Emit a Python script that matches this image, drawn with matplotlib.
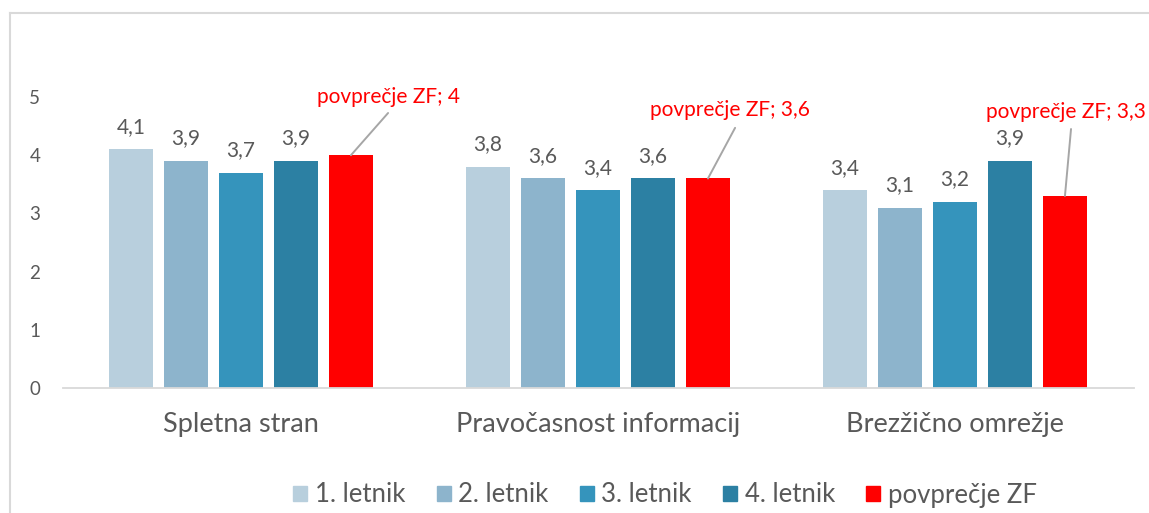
import matplotlib
matplotlib.use("Agg")
import matplotlib.pyplot as plt
from matplotlib.lines import Line2D
import numpy as np

categories = ["Spletna stran", "Pravočasnost informacij", "Brezžično omrežje"]
series_names = ["1. letnik", "2. letnik", "3. letnik", "4. letnik", "povprečje ZF"]
values = {
    "1. letnik": [4.1, 3.8, 3.4],
    "2. letnik": [3.9, 3.6, 3.1],
    "3. letnik": [3.7, 3.4, 3.2],
    "4. letnik": [3.9, 3.6, 3.9],
    "povprečje ZF": [4.0, 3.6, 3.3],
}
yticks = [0, 1, 2, 3, 4, 5]

colors = ["#B8CFDD", "#8DB4CC", "#3594BC", "#2C80A3", "#FF0000"]
label_color = "#595959"

plt.rcParams["font.family"] = ["Lato", "DejaVu Sans"]

fig = plt.figure(figsize=(11.49, 5.13), dpi=100)
W, H = 1149, 513
ax = fig.add_axes([62.5 / W, 125 / H, 1071 / W, 291 / H])

x = np.arange(len(categories))
pitch = 0.154
width = 0.121
offsets = (np.arange(len(series_names)) - 2) * pitch

def fmt(v):
    s = f"{v:.1f}".replace(".", ",")
    if s.endswith(",0"):
        s = s[:-2]
    return s

for k, name in enumerate(series_names):
    vals = values[name]
    ax.bar(x + offsets[k], vals, width=width, color=colors[k], label=name, zorder=2)
    if k < 4:
        for xi, v in zip(x + offsets[k], vals):
            ax.annotate(fmt(v), (xi, v), xytext=(0, 9), textcoords="offset points",
                        ha="center", va="bottom", fontsize=15, color=label_color)

# callout labels for the average series (label positions are layout)
callout_text_pos = [(0.412, 5.0), (1.370, 4.78), (2.311, 4.74)]
callout_line_end = [(0.412, 4.725), (1.384, 4.47), (2.325, 4.45)]
avg = values["povprečje ZF"]
for i, v in enumerate(avg):
    bx = x[i] + offsets[4]
    ax.annotate("", xy=(bx, v), xytext=callout_line_end[i],
                arrowprops=dict(arrowstyle="-", color="#A6A6A6", lw=1.4, shrinkA=0, shrinkB=0),
                annotation_clip=False)
    ax.text(callout_text_pos[i][0], callout_text_pos[i][1],
            f"povprečje ZF; {fmt(v)}", ha="center", va="center",
            fontsize=15, color="#FF0000", clip_on=False)

ax.set_xlim(-0.5, 2.5)
ax.set_ylim(0, 5)
ax.set_yticks(yticks)
ax.set_yticklabels([str(t) for t in yticks])
ax.set_xticks(x)
ax.set_xticklabels(categories)
for s in ["top", "right", "left"]:
    ax.spines[s].set_visible(False)
ax.spines["bottom"].set_color("#D9D9D9")
ax.spines["bottom"].set_linewidth(1.3)
ax.tick_params(axis="y", length=0, pad=16, labelsize=13.5, labelcolor=label_color)
ax.tick_params(axis="x", length=0, pad=17, labelsize=19.5, labelcolor=label_color)

handles = [plt.Rectangle((0, 0), 1, 1, color=c) for c in colors]
fig.legend(handles, series_names, loc="center", bbox_to_anchor=(665 / W, 18 / H),
           ncol=5, frameon=False, fontsize=18.5, handlelength=0.55, handleheight=0.55,
           handletextpad=0.3, columnspacing=1.2, labelcolor=label_color)

# chart border
fig.add_artist(Line2D([10 / W, 10 / W], [0, 1 - 13 / H], transform=fig.transFigure,
                      color="#D9D9D9", lw=1.5))
fig.add_artist(Line2D([10 / W, 1], [1 - 13 / H, 1 - 13 / H], transform=fig.transFigure,
                      color="#D9D9D9", lw=1.5))

fig.savefig("out.png", dpi=100)
